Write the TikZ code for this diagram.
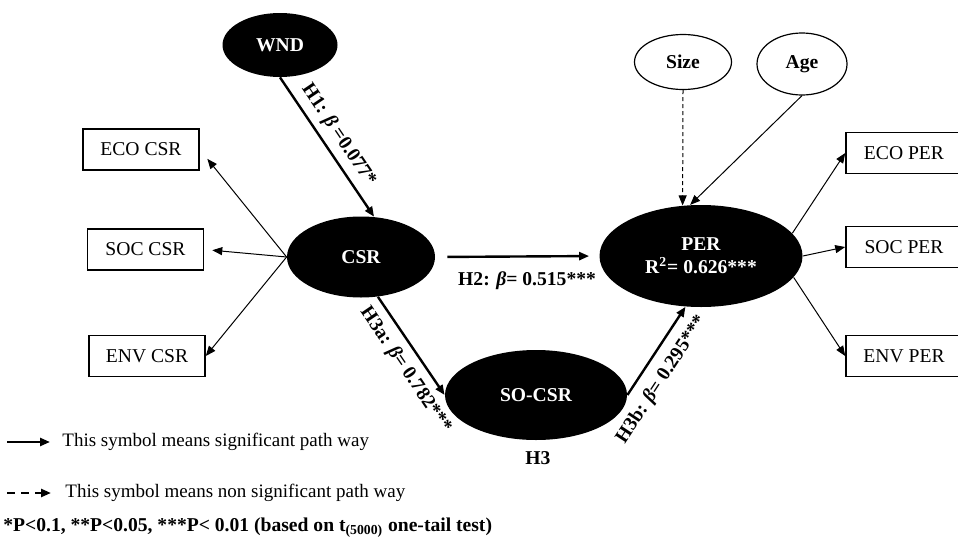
\documentclass[tikz,border=0pt]{standalone}
\usepackage{fontspec}
\setmainfont{Liberation Serif}
\usetikzlibrary{arrows.meta}
\usetikzlibrary{shapes.geometric}

\begin{document}
\begin{tikzpicture}[x=0.5pt,y=-0.5pt,>/.tip={Triangle[length=5pt,width=4pt]},
	font=\fontsize{9.8}{11.5}\selectfont,
	lat/.style={ellipse,fill=black,text=white,inner sep=0pt,font=\fontsize{9.8}{11.5}\selectfont\bfseries},
	ctrl/.style={ellipse,draw,line width=0.6pt,inner sep=0pt,font=\fontsize{9.8}{11.5}\selectfont\bfseries},
	ind/.style={draw,rectangle,line width=0.8pt,minimum width=58pt,minimum height=20.5pt,inner sep=0pt},
	sig/.style={->,line width=1.2pt},
	loadarrow/.style={->,line width=0.5pt},
	hlab/.style={font=\fontsize{9.8}{11.5}\selectfont\bfseries,inner sep=0pt}]
	\useasboundingbox (0,0) rectangle (958,552);
	% latent variables
	\draw (280,45) node(WND) [lat,minimum width=57.5pt,minimum height=32pt] {WND};
	\draw (361,257) node(CSR) [lat,minimum width=74pt,minimum height=40.5pt] {CSR};
	\draw (701,256) node(PER) [lat,minimum width=101.5pt,minimum height=51pt,align=center] {PER\\R\textsuperscript{2}= 0.626***};
	\draw (536,395) node(SOCSR) [lat,minimum width=91pt,minimum height=45pt] {SO-CSR};
	\draw (683,62) node(Size) [ctrl,minimum width=48.5pt,minimum height=27.5pt] {Size};
	\draw (802,64) node(Age) [ctrl,minimum width=45pt,minimum height=31pt] {Age};
	% indicators
	\draw (141,149.5) node(ecocsr) [ind] {ECO CSR};
	\draw (145.5,249.5) node(soccsr) [ind] {SOC CSR};
	\draw (147,356) node(envcsr) [ind] {ENV CSR};
	\draw (904,153) node(ecoper) [ind] {ECO PER};
	\draw (904,247) node(socper) [ind] {SOC PER};
	\draw (904,356) node(envper) [ind] {ENV PER};
	% paths
	\draw (WND.south) edge [sig] node [hlab,sloped,above=3pt,pos=0.48] {H1: \textit{β} =0.077*} (CSR.72);
	\draw (CSR.east) edge [sig,shorten <=6pt,shorten >=5pt] node [hlab,below=7pt,pos=0.56] {H2: \textit{β}= 0.515***} (PER.west);
	\draw (CSR.-67) edge [sig] node [hlab,sloped,below=4pt,pos=0.64] {H3a: \textit{β}= 0.782***} (SOCSR.west);
	\draw (SOCSR.east) edge [sig] node [hlab,sloped,below=5pt,pos=0.3] {H3b: \textit{β}= 0.295***} (PER.-107);
	\draw (538,458) node(H3) [hlab] {H3};
	% controls
	\draw[loadarrow,dash pattern=on 2pt off 1.5pt] (Size.south) -- (PER.110);
	\draw[loadarrow] (Age.south) -- (PER.102);
	% loadings
	\draw (CSR.west) edge [loadarrow,shorten >=6pt] (ecocsr.east);
	\draw (CSR.west) edge [loadarrow,shorten >=4pt] (soccsr.east);
	\draw (CSR.west) edge [loadarrow] (envcsr.east);
	\draw (PER.14) edge [loadarrow] (ecoper.west);
	\draw (PER.east) edge [loadarrow] (socper.west);
	\draw (PER.-13) edge [loadarrow] (envper.west);
	% legend
	\coordinate (sigstart) at (7,442);
	\draw (62,442) node(sigtext) [anchor=west,inner sep=0pt,font=\fontsize{9.5}{11}\selectfont] {This symbol means significant path way};
	\draw[sig] (sigstart) -- ([xshift=-6pt]sigtext.west);
	\coordinate (nsigstart) at (7,493);
	\draw (65,493) node(nsigtext) [anchor=west,inner sep=0pt,font=\fontsize{9.5}{11}\selectfont] {This symbol means non significant path way};
	\draw[sig,dash pattern=on 4pt off 3pt] (nsigstart) -- ([xshift=-7pt]nsigtext.west);
	\draw (3,528) node(note) [hlab,anchor=west] {*P<0.1, **P<0.05, ***P< 0.01 (based on t\textsubscript{(5000)} one-tail test)};
\end{tikzpicture}
\end{document}
